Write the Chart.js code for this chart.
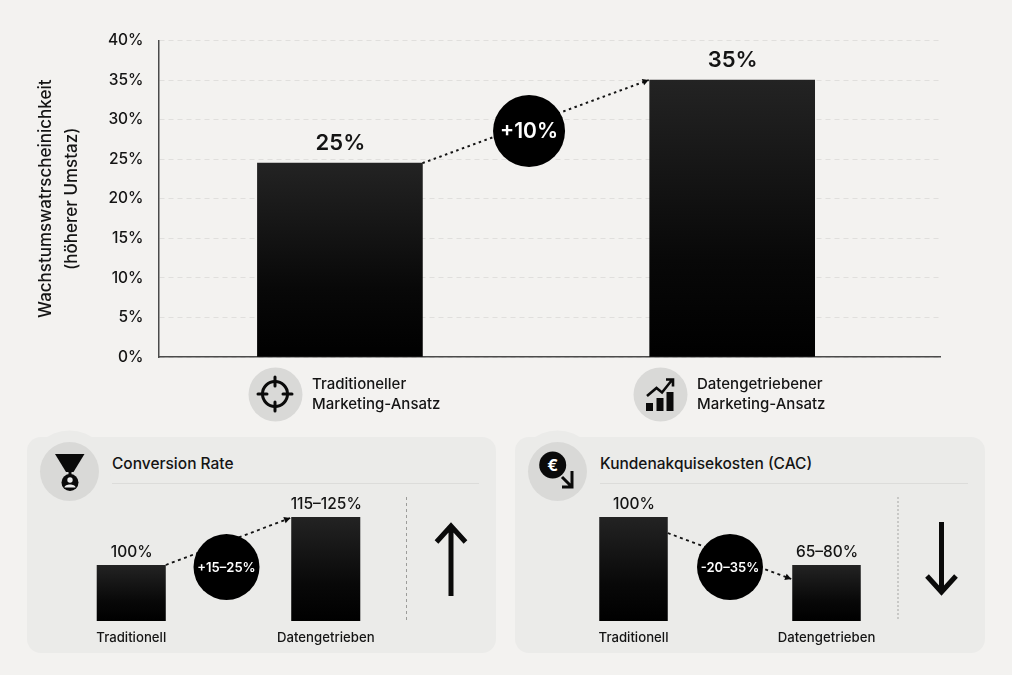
<!DOCTYPE html>
<html lang="de"><head><meta charset="utf-8">
<script src="https://cdn.jsdelivr.net/npm/chart.js@4/dist/chart.umd.min.js"></script>
<style>
html,body{margin:0;padding:0;background:#f3f2f0;}
body{width:1012px;height:675px;position:relative;overflow:hidden;font-family:Inter,sans-serif;color:#111;}
svg,canvas{position:absolute;}
.t{position:absolute;white-space:nowrap;color:#141414;font-weight:500;}
.cat{font-size:15px;line-height:20.5px;}
.ttl{font-size:15.5px;line-height:18px;}
</style></head><body>
<svg width="1012" height="675" viewBox="0 0 1012 675" style="left:0;top:0">
  <g fill="#ebebe9">
    <rect x="27" y="437" width="469" height="216" rx="14"/>
    <rect x="515" y="437" width="470" height="216" rx="14"/>
    <circle cx="69.5" cy="471.5" r="41"/>
    <circle cx="557.5" cy="471.5" r="41"/>
  </g>
  <g stroke="#dcdcda" stroke-width="1">
    <line x1="112" y1="483.5" x2="479" y2="483.5"/>
    <line x1="600" y1="483.5" x2="968" y2="483.5"/>
  </g>
  <g fill="#d9d9d7">
    <circle cx="275.5" cy="394.5" r="27"/>
    <circle cx="660.5" cy="394.5" r="27"/>
    <circle cx="69.5" cy="471.5" r="29.5"/>
    <circle cx="557.5" cy="471.5" r="29.5"/>
  </g>
  <!-- target -->
  <g fill="none" stroke="#0a0a0a" stroke-width="3" stroke-linecap="round">
    <circle cx="275" cy="394" r="12.5"/>
    <path d="M275 377V386M275 402V411M258 394H267M283 394H292"/>
  </g>
  <!-- growth chart -->
  <g fill="#0a0a0a">
    <rect x="646" y="403" width="7" height="8"/>
    <rect x="656.5" y="398" width="7" height="13"/>
    <rect x="666.5" y="392" width="7" height="19"/>
  </g>
  <path d="M647 396L656.5 388L662 392.5L672 380M666 379.5H673V386.5" fill="none" stroke="#0a0a0a" stroke-width="2.6"/>
  <!-- funnel -->
  <path d="M55 454H84.500L73.500 472H66Z" fill="#0a0a0a"/>
  <circle cx="70" cy="482.500" r="8.500" fill="#0a0a0a"/>
  <line x1="70" y1="471" x2="70" y2="475" stroke="#0a0a0a" stroke-width="3"/>
  <circle cx="70" cy="480" r="2.700" fill="#eee"/>
  <path d="M64.500 487.500C64.500 483.500 75.500 483.500 75.500 487.500Z" fill="#eee"/>
  <!-- euro -->
  <circle cx="552.700" cy="465" r="13.500" fill="#0a0a0a"/>
  <text x="552.700" y="470.500" text-anchor="middle" fill="#fff" font-family="Inter,sans-serif" font-weight="700" font-size="16">€</text>
  <path d="M562 477L572 487M572 471V487H562" fill="none" stroke="#0a0a0a" stroke-width="3"/>
  <!-- dividers -->
  <line x1="406.500" y1="497" x2="406.500" y2="621" stroke="#9c9c9a" stroke-width="1" stroke-dasharray="3 3"/>
  <line x1="898" y1="497" x2="898" y2="621" stroke="#bdbdbb" stroke-width="1.500" stroke-dasharray="2 2"/>
  <!-- trend arrows -->
  <g fill="none" stroke="#0a0a0a" stroke-width="5">
    <path d="M451 596V526M436.500 542L451 526L465.500 542"/>
    <path d="M941.500 522V592M927 576L941.500 592L956 576"/>
  </g>
</svg>
<canvas id="main" width="1012" height="431" style="left:0;top:0"></canvas>
<canvas id="conv" width="389" height="160" style="left:34px;top:490px"></canvas>
<canvas id="cac" width="386" height="160" style="left:537px;top:490px"></canvas>
<div id="overlay"></div>
<script>
// ---- data ----
const mainCategories = ['Traditioneller Marketing-Ansatz', 'Datengetriebener Marketing-Ansatz'];
const mainValues = [24.5, 35];
const mainLabels = ['25%', '35%'];
const mainDelta = '+10%';
const yTicks = [0, 5, 10, 15, 20, 25, 30, 35, 40];
const yTitle = ['Wachstumswatrscheinichkeit', '(höherer Umstaz)'];

const panelCategories = ['Traditionell', 'Datengetrieben'];
const convValues = [100, 120];
const convLabels = ['100%', '115–125%'];
const convDelta = '+15–25%';
const cacValues = [100, 72.5];
const cacLabels = ['100%', '65–80%'];
const cacDelta = '-20–35%';
const panelTitles = ['Conversion Rate', 'Kundenakquisekosten (CAC)'];

// ---- shared helpers ----
Chart.defaults.font.family = 'Inter, sans-serif';
Chart.defaults.color = '#141414';
Chart.defaults.animation = false;

function barGradient(values) {
  return c => {
    const ch = c.chart;
    if (!ch.chartArea) return '#111';
    const top = ch.scales.y.getPixelForValue(values[c.dataIndex]);
    const bottom = ch.scales.y.bottom;
    const g = ch.ctx.createLinearGradient(0, top, 0, bottom);
    g.addColorStop(0, '#232323');
    g.addColorStop(0.65, '#080808');
    g.addColorStop(1, '#000');
    return g;
  };
}

const annotate = {
  id: 'annotate',
  afterDatasetsDraw(ch, args, o) {
    const ctx = ch.ctx, bars = ch.getDatasetMeta(0).data;
    const a = bars[0], b = bars[1];
    const x1 = a.x + a.width / 2, y1 = a.y + o.startDrop;
    const x2 = b.x - b.width / 2 - 1, y2 = b.y + o.endDrop;
    ctx.save();
    // dotted connector
    ctx.strokeStyle = '#141414';
    ctx.lineWidth = o.lineWidth;
    ctx.setLineDash(o.dash);
    ctx.beginPath(); ctx.moveTo(x1, y1); ctx.lineTo(x2, y2); ctx.stroke();
    ctx.setLineDash([]);
    // arrow head
    const ang = Math.atan2(y2 - y1, x2 - x1), s = 7;
    ctx.fillStyle = '#0a0a0a';
    ctx.beginPath();
    ctx.moveTo(x2, y2);
    ctx.lineTo(x2 - s * Math.cos(ang - 0.5), y2 - s * Math.sin(ang - 0.5));
    ctx.lineTo(x2 - s * Math.cos(ang + 0.5), y2 - s * Math.sin(ang + 0.5));
    ctx.closePath(); ctx.fill();
    // badge
    const cx = (x1 + x2) / 2 + o.badgeDx, cy = (y1 + y2) / 2 + o.badgeDy;
    ctx.fillStyle = '#000';
    ctx.beginPath(); ctx.arc(cx, cy, o.badgeR, 0, Math.PI * 2); ctx.fill();
    ctx.fillStyle = '#fff';
    ctx.textAlign = 'center'; ctx.textBaseline = 'middle';
    ctx.font = o.badgeFont;
    ctx.fillText(o.badgeText, cx, cy + 1);
    // value labels
    ctx.fillStyle = '#141414';
    ctx.font = o.labelFont;
    bars.forEach((bar, i) => ctx.fillText(o.labels[i], bar.x + 0.5, bar.y - o.labelGap));
    ctx.restore();
  }
};

// ---- main chart ----
new Chart(document.getElementById('main'), {
  type: 'bar',
  plugins: [annotate],
  data: {
    labels: mainCategories,
    datasets: [{
      data: mainCategories.map((c, i) => ({ x: i, y: mainValues[i] })),
      backgroundColor: barGradient(mainValues),
      barThickness: 165,
      borderWidth: 0
    }]
  },
  options: {
    responsive: false,
    layout: { padding: { left: 0, right: 72, top: 40.5, bottom: 74 } },
    plugins: {
      legend: { display: false }, tooltip: { enabled: false },
      annotate: {
        labels: mainLabels, labelGap: 20, labelFont: '600 22px Inter, sans-serif',
        badgeText: mainDelta, badgeFont: '600 21px Inter, sans-serif', badgeR: 36,
        badgeDx: -6.5, badgeDy: 9.5, startDrop: 0, endDrop: 0,
        lineWidth: 2, dash: [2.5, 3.5]
      }
    },
    scales: {
      x: {
        type: 'linear', min: -0.4625, max: 1.5298, offset: false,
        ticks: { display: false },
        grid: { display: false, drawTicks: false },
        border: { display: true, color: '#4a4a4a', width: 1.5 },
        afterFit: s => { s.height = 0; }
      },
      y: {
        min: 0, max: 40,
        afterBuildTicks: s => { s.ticks = yTicks.map(v => ({ value: v })); },
        ticks: { callback: v => v + '%', padding: 15, color: '#141414', font: { size: 15.5, weight: '500' } },
        grid: { color: '#e0dfdd', lineWidth: 1, drawTicks: false },
        border: { display: true, color: '#4a4a4a', width: 1.5, dash: [5, 4] },
        title: {
          display: true, text: yTitle, color: '#141414',
          font: { size: 17, weight: '500', lineHeight: 1.5 }, padding: { top: 33.5, bottom: 0 }
        },
        afterFit: s => { s.width = 158.5; }
      }
    }
  }
});

// ---- panel charts ----
function panelChart(id, values, labels, delta, yMin, extra) {
  return new Chart(document.getElementById(id), {
    type: 'bar',
    plugins: [annotate],
    data: {
      labels: panelCategories,
      datasets: [{ data: values, backgroundColor: barGradient(values), barPercentage: 0.355, categoryPercentage: 1, borderWidth: 0 }]
    },
    options: {
      responsive: false,
      layout: { padding: { top: 27, left: 0, right: 0, bottom: 0 } },
      plugins: {
        legend: { display: false }, tooltip: { enabled: false },
        annotate: Object.assign({
          labels, labelGap: 13, labelFont: '500 15.5px Inter, sans-serif',
          badgeText: delta, badgeFont: '600 13px Inter, sans-serif', badgeR: 33,
          lineWidth: 1.8, dash: [3, 3.5]
        }, extra)
      },
      scales: {
        x: {
          ticks: { padding: 9, color: '#141414', font: { size: 13.2, weight: '500' }, maxRotation: 0 },
          grid: { display: false, drawTicks: false },
          border: { display: false },
          afterFit: s => { s.height = 29; }
        },
        y: { display: false, min: yMin, max: Math.max(...values) }
      }
    }
  });
}
panelChart('conv', convValues, convLabels, convDelta, 76.67, { startDrop: 0, endDrop: 1, badgeDx: -1.5, badgeDy: 25.5 });
panelChart('cac', cacValues, cacLabels, cacDelta, 40.4, { startDrop: 16, endDrop: 14, badgeDx: 0.5, badgeDy: 11 });

// ---- html text ----
const overlay = document.getElementById('overlay');
function addText(cls, x, y, html) {
  const d = document.createElement('div');
  d.className = 't ' + cls; d.style.left = x + 'px'; d.style.top = y + 'px'; d.innerHTML = html;
  overlay.appendChild(d);
}
addText('cat', 312, 373.5, mainCategories[0].replace(' ', '<br>'));
addText('cat', 697, 373.5, mainCategories[1].replace(' ', '<br>'));
addText('ttl', 112, 454.5, panelTitles[0]);
addText('ttl', 600, 454.5, panelTitles[1]);
</script>
</body></html>
